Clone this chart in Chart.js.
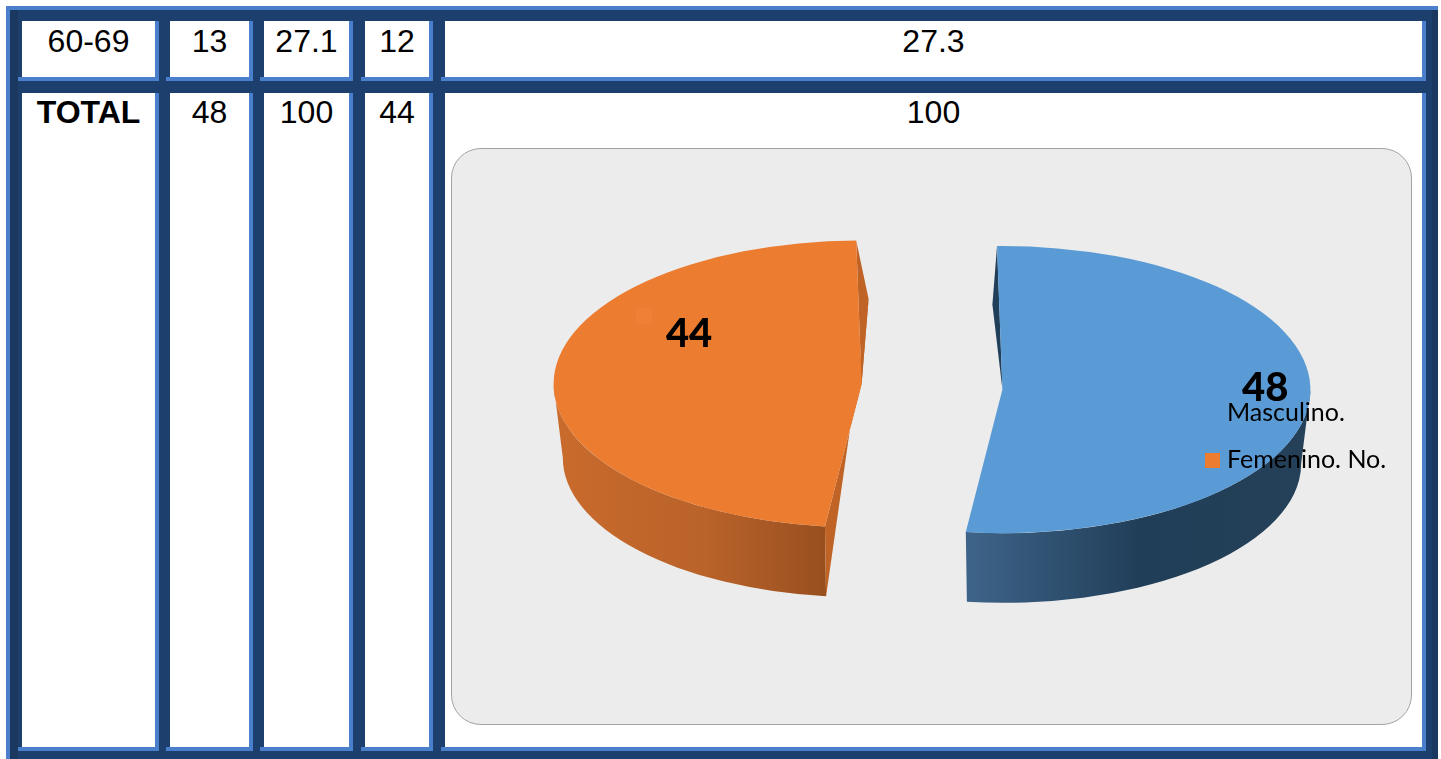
<!DOCTYPE html>
<html lang="es">
<head>
<meta charset="UTF-8">
<title>Sexo</title>
<script src="https://cdn.jsdelivr.net/npm/chart.js"></script>
<style>
  html, body { margin: 0; padding: 0; background: #fff; }
  body { width: 1441px; height: 759px; overflow: hidden; position: relative; font-family: "Liberation Sans", Arial, sans-serif; color: #000; }
  #frame { position: absolute; left: 6px; top: 6px; width: 1432px; height: 753px; box-sizing: border-box; background: #1d3f6e; border-left: 4px solid #4a80cb; border-top: 4px solid #4a80cb; }
  .strip { position: absolute; background: #1a3860; }
  .cell { position: absolute; box-sizing: border-box; background: #fff; border-right: 4px solid #4a80cb; border-bottom: 4px solid #4a80cb; text-align: center; font-size: 32px; }
  .cell::after { content: ""; position: absolute; left: -4px; bottom: -4px; width: 4px; height: 4px; background: #4a80cb; }
  #panel { position: absolute; left: 451px; top: 148px; width: 961px; height: 577px; box-sizing: border-box; background: #ececec; border: 1.5px solid #a3a3a3; border-radius: 30px; }
  #wrap { position: absolute; left: 0; top: 0; width: 961px; height: 577px; margin: -1.5px; }
</style>
</head>
<body>
<div id="frame"></div>
<div class="strip" style="left:10px;top:10px;width:8px;height:749px"></div>
<div class="strip" style="left:1432px;top:10px;width:6px;height:749px"></div>
<div id="cells"></div>
<div id="panel"><div id="wrap"><canvas id="pie"></canvas></div></div>

<script>
const row1 = ['60-69', '13', '27.1', '12', '27.3'];
const row2 = ['TOTAL', '48', '100', '44', '100'];

const categories = ['Masculino.', 'Femenino. No.'];
const values = [48, 44];
const sliceColors = ['#5b9bd5', '#eb7c30'];
const edgeColors = ['#223f59', '#bf6426'];

// x edges of the white cells
const colLeft = [22, 170, 264, 365, 445];
const colRight = [159, 253, 353, 433, 1426];

// table
const cells = document.getElementById('cells');
function addRow(vals, top, bottom, lineH) {
  vals.forEach((v, i) => {
    const d = document.createElement('div');
    d.className = 'cell';
    d.style.cssText = `left:${colLeft[i]}px;top:${top}px;width:${colRight[i] - colLeft[i]}px;height:${bottom - top}px;line-height:${lineH}px;`;
    if (v === 'TOTAL') d.style.fontWeight = 'bold';
    d.textContent = v;
    cells.appendChild(d);
  });
}
addRow(row1, 21, 81, 40);
addRow(row2, 93, 751, 38);

// look of the fake 3D pie
const squash = 0.466;     // y scale of the top face
const centerY = 239;      // wanted y of the pie centre in the canvas
const depth = 74;
const bottomScale = 0.97; // bottom rim is a bit smaller, perspective
const hingeUp = 85;       // the inner edge of the wall goes up, not down
const explode = [71, 70];
const lift = [2, -3];     // small y shift per slice, before the squash

function sliceGeo(arc, chart) {
  const cy0 = chart.chartArea.top + chart.chartArea.height / 2;
  return {
    mid: (arc.startAngle + arc.endAngle) / 2,
    x: arc.x,
    y: centerY + (arc.y - cy0) * squash,
    r: arc.outerRadius
  };
}

function rimTop(g, a) { return [g.x + g.r * Math.cos(a), g.y + g.r * squash * Math.sin(a)]; }
function rimBottom(g, a) {
  return [g.x + g.r * bottomScale * Math.cos(a), g.y + depth + g.r * squash * bottomScale * Math.sin(a)];
}

function poly(ctx, pts, color) {
  ctx.beginPath();
  pts.forEach((p, i) => i ? ctx.lineTo(p[0], p[1]) : ctx.moveTo(p[0], p[1]));
  ctx.closePath();
  ctx.fillStyle = color;
  ctx.fill();
}

const pie3d = {
  id: 'pie3d',
  // the offset option eats into the slice angle, so pull the arcs apart here
  afterDatasetsUpdate(chart) {
    chart.getDatasetMeta(0).data.forEach((arc, i) => {
      const mid = (arc.startAngle + arc.endAngle) / 2;
      arc.x += Math.cos(mid) * explode[i];
      arc.y += Math.sin(mid) * explode[i] + lift[i];
    });
  },
  beforeDatasetsDraw(chart) {
    const ctx = chart.ctx;
    const arcs = chart.getDatasetMeta(0).data;
    arcs.forEach((arc, i) => {
      const g = sliceGeo(arc, chart);
      const a0 = Math.max(arc.startAngle, 0);
      const a1 = Math.min(arc.endAngle, Math.PI);
      // outer wall
      const grad = ctx.createLinearGradient(g.x - g.r * (i ? 1 : 0.1), 0, g.x + g.r * (i ? 0 : 1), 0);
      if (i === 0) {
        grad.addColorStop(0, '#3d6388');
        grad.addColorStop(0.5, '#213e58');
        grad.addColorStop(1, '#254159');
      } else {
        grad.addColorStop(0, '#c96b2c');
        grad.addColorStop(0.5, '#b9622a');
        grad.addColorStop(1, '#8e4a1c');
      }
      ctx.beginPath();
      ctx.ellipse(g.x, g.y, g.r, g.r * squash, 0, a0, a1);
      ctx.ellipse(g.x, g.y + depth, g.r * bottomScale, g.r * squash * bottomScale, 0, a1, a0, true);
      ctx.closePath();
      ctx.fillStyle = grad;
      ctx.fill();
      // inner walls
      const apex = [g.x, g.y];
      const pull = Math.cos(g.mid) > 0 ? -10 : 7;
      const hinge = [g.x + pull, g.y - hingeUp];
      const upper = Math.sin(arc.startAngle) < 0 ? arc.startAngle : arc.endAngle;
      poly(ctx, [rimTop(g, upper), hinge, apex], edgeColors[i]);
      if (Math.cos(g.mid) < 0) {
        const lower = arc.startAngle;
        poly(ctx, [rimTop(g, lower), rimBottom(g, lower), hinge, apex], edgeColors[i]);
      }
    });
    // squash the arcs chart.js is about to draw
    const cy0 = chart.chartArea.top + chart.chartArea.height / 2;
    ctx.save();
    ctx.translate(0, centerY);
    ctx.scale(1, squash);
    ctx.translate(0, -cy0);
  },
  afterDatasetsDraw(chart) {
    chart.ctx.restore();
  },
  afterDraw(chart) {
    const ctx = chart.ctx;
    const arcs = chart.getDatasetMeta(0).data;
    const g0 = sliceGeo(arcs[0], chart);
    const g1 = sliceGeo(arcs[1], chart);
    ctx.save();
    // stray legend key in the orange slice
    ctx.fillStyle = '#ef8035';
    ctx.fillRect(185, 160, 16, 16);
    ctx.textBaseline = 'middle';
    ctx.fillStyle = '#000';
    // value labels
    ctx.textAlign = 'center';
    ctx.font = '900 40px Lato';
    ctx.fillText(values[0], g0.x + g0.r * 0.853, g0.y - 2);
    ctx.fillText(values[1], g1.x - g1.r * 0.56, g1.y - 50);
    // legend, sits on top of the slice
    ctx.textAlign = 'left';
    ctx.font = '25px Lato';
    categories.forEach((c, i) => {
      const ly = 265 + i * 47;
      ctx.fillStyle = sliceColors[i];
      ctx.fillRect(754, ly - 7, 15, 15);
      ctx.fillStyle = '#000';
      ctx.fillText(c, 776, ly);
    });
    ctx.restore();
  }
};

new Chart(document.getElementById('pie'), {
  type: 'pie',
  data: {
    labels: categories,
    datasets: [{ data: values, backgroundColor: sliceColors, borderWidth: 0, clip: false }]
  },
  options: {
    responsive: true,
    maintainAspectRatio: false,
    animation: false,
    rotation: -1,
    radius: 308,
    layout: { padding: 0 },
    plugins: { legend: { display: false }, tooltip: { enabled: false } }
  },
  plugins: [pie3d]
});
</script>
</body>
</html>
